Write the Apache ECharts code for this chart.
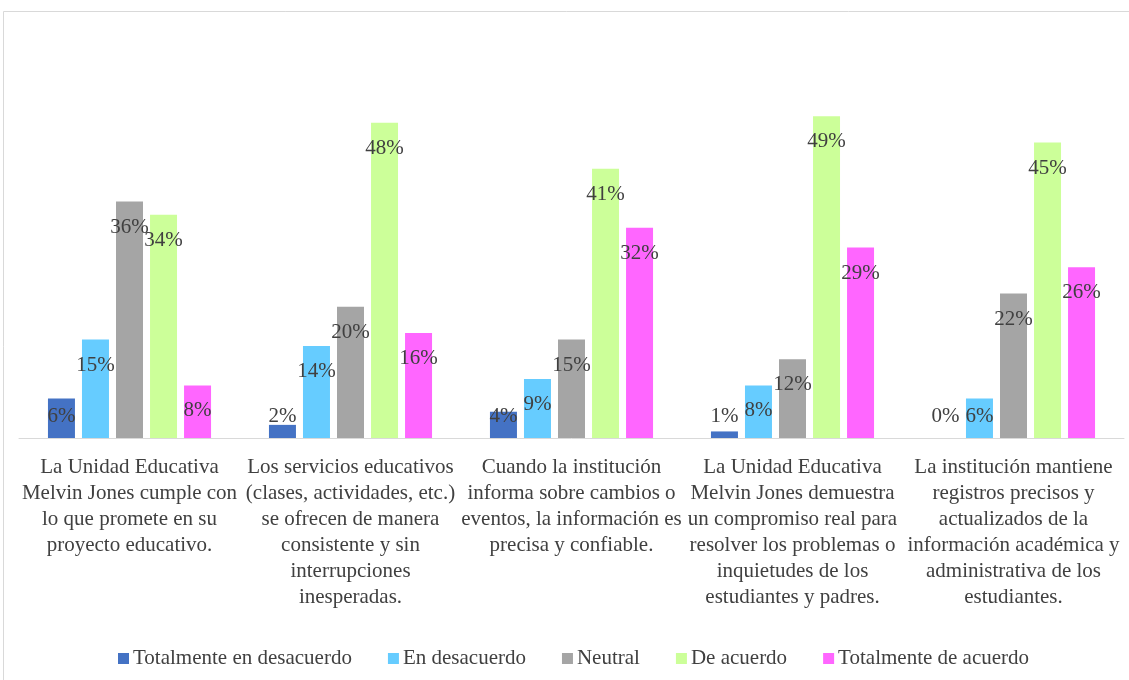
<!DOCTYPE html>
<html>
<head>
<meta charset="utf-8">
<script src="https://cdn.jsdelivr.net/npm/echarts@6/dist/echarts.min.js"></script>
<style>
  html, body { margin: 0; padding: 0; background: #fff; }
  #chart { width: 1129px; height: 680px; }
</style>
</head>
<body>
<div id="chart"></div>
<script>
// Survey statements (tick labels, pre-wrapped)
const categories = [
  'La Unidad Educativa\nMelvin Jones cumple con\nlo que promete en su\nproyecto educativo.',
  'Los servicios educativos\n(clases, actividades, etc.)\nse ofrecen de manera\nconsistente y sin\ninterrupciones\ninesperadas.',
  'Cuando la institución\ninforma sobre cambios o\neventos, la información es\nprecisa y confiable.',
  'La Unidad Educativa\nMelvin Jones demuestra\nun compromiso real para\nresolver los problemas o\ninquietudes de los\nestudiantes y padres.',
  'La institución mantiene\nregistros precisos y\nactualizados de la\ninformación académica y\nadministrativa de los\nestudiantes.'
];

// Percentages per answer option
const totalmenteDesacuerdo = [6, 2, 4, 1, 0];
const enDesacuerdo = [15, 14, 9, 8, 6];
const neutral = [36, 20, 15, 12, 22];
const deAcuerdo = [34, 48, 41, 49, 45];
const totalmenteAcuerdo = [8, 16, 32, 29, 26];

const seriesNames = ['Totalmente en desacuerdo', 'En desacuerdo', 'Neutral', 'De acuerdo', 'Totalmente de acuerdo'];
const seriesValues = [totalmenteDesacuerdo, enDesacuerdo, neutral, deAcuerdo, totalmenteAcuerdo];
const seriesColors = ['#4472C4', '#66CCFF', '#A5A5A5', '#CCFF99', '#FF66FF'];

const FONT = '"Liberation Serif", "Times New Roman", serif';
const TEXT = '#404040';
const FS = 21;

// Short bars keep their label resting just above the baseline
function pointOf(v) {
  const short = v < 7;
  return {
    value: v,
    label: short
      ? { position: 'insideBottom', distance: 11 }
      : { position: 'insideTop', distance: 15 }
  };
}

const chart = echarts.init(document.getElementById('chart'), null, { renderer: 'canvas' });

chart.setOption({
  animation: false,
  backgroundColor: '#fff',
  graphic: [{
    type: 'rect',
    shape: { x: 3.5, y: 11.5, width: 1140, height: 720 },
    style: { fill: 'none', stroke: '#d9d9d9', lineWidth: 1 },
    silent: true
  }],
  grid: { left: 19, right: 5, top: 44, bottom: 242, containLabel: false },
  legend: {
    data: seriesNames,
    top: 643,
    left: 113,
    icon: 'rect',
    itemWidth: 11,
    itemHeight: 11,
    itemGap: 36,
    textStyle: { fontFamily: FONT, fontSize: FS, color: TEXT, padding: [0, 0, 0, -1] }
  },
  xAxis: {
    type: 'category',
    data: categories,
    axisLine: { show: true, lineStyle: { color: '#d9d9d9', width: 1 } },
    axisTick: { show: false },
    axisLabel: {
      interval: 0,
      margin: 16,
      fontFamily: FONT,
      fontSize: FS,
      lineHeight: 26,
      color: TEXT,
      align: 'center'
    }
  },
  yAxis: {
    type: 'value',
    min: 0,
    max: 60,
    show: false,
    splitLine: { show: false }
  },
  series: seriesNames.map((name, i) => ({
    name,
    type: 'bar',
    barWidth: 27,
    barGap: '26%',
    itemStyle: { color: seriesColors[i] },
    label: {
      show: true,
      formatter: '{c}%',
      fontFamily: FONT,
      fontSize: FS,
      color: TEXT
    },
    data: seriesValues[i].map(pointOf)
  }))
});
</script>
</body>
</html>
